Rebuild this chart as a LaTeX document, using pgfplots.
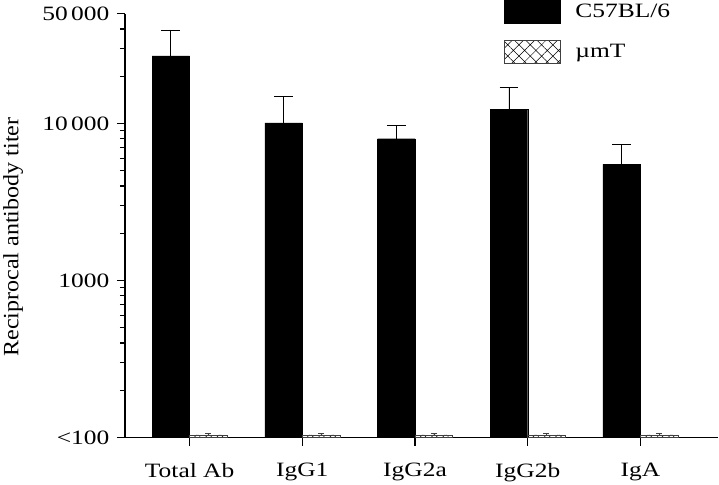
\documentclass[border=0pt]{standalone}
\usepackage{pgfplots}
\pgfplotsset{compat=1.18}
\usepackage{fontspec}
\setmainfont{Liberation Serif}[FakeStretch=1.25]
\newfontfamily\labfont{Liberation Serif}[FakeStretch=1.1]
\usetikzlibrary{patterns.meta}
\begin{document}
\begin{tikzpicture}
\begin{axis}[
  scale only axis,
  width=595bp, height=425bp,
  ymode=log, log origin=infty,
  ymin=100, ymax=50000,
  xmin=-0.575, xmax=4.69,
  axis lines=left,
  axis line style={-, line width=1.6bp},
  ybar=0pt, bar width=37.6bp,
  xtick={0,1,2,3,4},
  xticklabels={Total Ab, IgG1, IgG2a, IgG2b, IgA},
  ytick={100,1000,10000,50000},
  yticklabels={<100, 1000, 10\,000, 50\,000},
  minor ytick={200,300,400,500,600,700,800,900,2000,3000,4000,5000,6000,7000,8000,9000,20000,30000,40000},
  tick align=outside,
  major tick length=8bp, minor tick length=5bp,
  tick style={line width=1.2bp, black},
  minor tick style={line width=1.2bp, black},
  every tick label/.append style={font=\fontsize{20.5}{24}\selectfont},
  xticklabel style={yshift=-14bp},
  yticklabel style={xshift=-4bp},
  ylabel={Reciprocal antibody titer},
  ylabel style={font=\labfont\fontsize{22}{26}\selectfont, at={(axis description cs:-0.188,0.473)}, anchor=center},
  legend style={draw=none, fill=none, at={(axis description cs:0.6387,1.0329)}, anchor=north west,
    font=\fontsize{20.5}{24}\selectfont, row sep=17bp, column sep=15bp, inner sep=0pt,
    nodes={inner sep=0pt, anchor=west}},
  legend cell align=left,
  legend image code/.code={\draw[#1] (0bp,-11.5bp) rectangle (56bp,11.5bp);},
  clip=false,
]
\addplot[fill=black, draw=black,
  error bars/.cd, y dir=plus, y explicit,
  error bar style={line width=0.8bp, black},
  error mark options={rotate=90, mark size=9.5bp, line width=0.8bp, black}]
  coordinates {(0,27000) +- (0,12400) (1,10100) +- (0,4800) (2,8000) +- (0,1750) (3,12300) +- (0,4600) (4,5500) +- (0,1900)};
\addlegendentry{C57BL/6}
\addplot[fill=white, draw=black!75, line width=0.6bp, pattern={Hatch[angle=45,distance=8bp,line width=0.5bp]},
  error bars/.cd, y dir=plus, y explicit,
  error bar style={line width=0.5bp, black!75},
  error mark options={rotate=90, mark size=3bp, line width=0.5bp, black!75}]
  coordinates {(0,104) +- (0,2) (1,104) +- (0,2) (2,104) +- (0,2) (3,104) +- (0,2) (4,104) +- (0,2)};
\addlegendentry{µmT}
\end{axis}
\end{tikzpicture}
\end{document}
